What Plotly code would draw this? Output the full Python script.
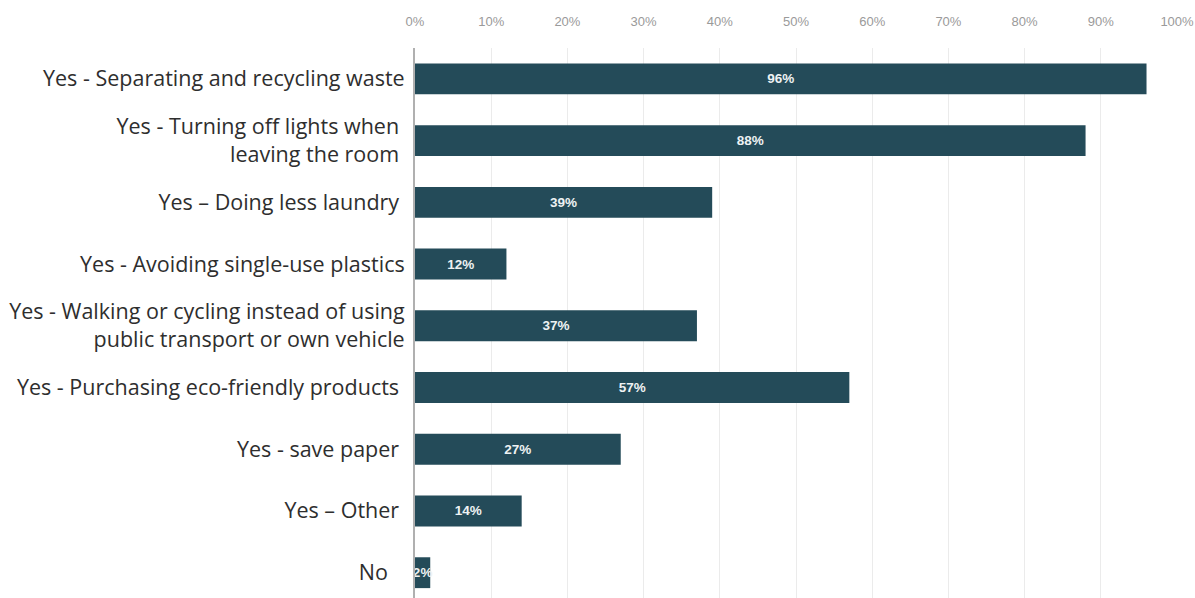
import plotly.graph_objects as go

NBSP = "\u00a0"

categories = [
    "Yes - Separating and recycling waste",
    "Yes - Turning off lights when" + NBSP + "<br>leaving the room" + NBSP,
    "Yes – Doing less laundry" + NBSP,
    "Yes - Avoiding single-use plastics",
    "Yes - Walking or cycling instead of using<br>public transport or own vehicle",
    "Yes - Purchasing eco-friendly products" + NBSP,
    "Yes - save paper" + NBSP,
    "Yes – Other" + NBSP,
    "No" + NBSP * 3,
]
shares = [96, 88, 39, 12, 37, 57, 27, 14, 2]
tick_values = [0, 10, 20, 30, 40, 50, 60, 70, 80, 90, 100]
tick_labels = [f"{v}%" for v in tick_values]

fig = go.Figure(
    go.Bar(
        x=shares,
        y=categories,
        orientation="h",
        marker=dict(color="#244b59", line=dict(width=0)),
        texttemplate="%{x}%",
        textposition="inside",
        insidetextanchor="middle",
        textangle=0,
        textfont=dict(family="Liberation Sans, Arial, sans-serif", size=13.5, color="#eef2f3", weight="bold"),
        cliponaxis=False,
    )
)

fig.update_layout(
    width=1195,
    height=598,
    margin=dict(l=415, r=18, t=48, b=0),
    plot_bgcolor="white",
    paper_bgcolor="white",
    bargap=0.5,
    showlegend=False,
    uniformtext=dict(minsize=13, mode="show"),
)

fig.update_xaxes(
    side="top",
    range=[0, 100],
    tickvals=tick_values,
    ticktext=tick_labels,
    showgrid=True,
    gridcolor="#ebebeb",
    gridwidth=1,
    zeroline=False,
    ticks="",
    ticklabelstandoff=18,
    tickfont=dict(family="Liberation Sans, Arial, sans-serif", size=13, color="#9a9a9a"),
    fixedrange=True,
)

fig.update_yaxes(
    categoryorder="array",
    categoryarray=categories,
    range=[8.41, -0.5],
    showline=True,
    linecolor="#b0b0b0",
    linewidth=2,
    showgrid=False,
    ticks="",
    ticklabelstandoff=4,
    tickfont=dict(family="Open Sans, sans-serif", size=21.5, color="#2e2e2e"),
    fixedrange=True,
)

fig.write_html("out.html")
